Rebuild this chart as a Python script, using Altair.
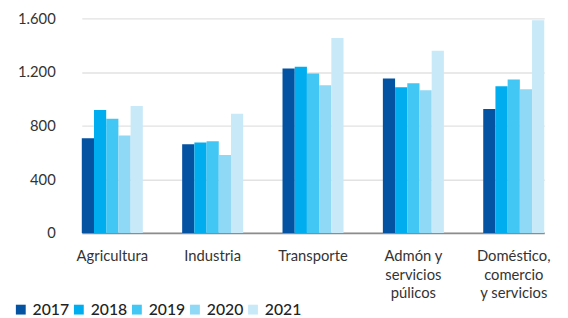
import altair as alt
import pandas as pd

categories = ["Agricultura", "Industria", "Transporte",
              "Admón y|servicios|púlicos", "Doméstico,|comercio|y servicios"]
years = ["2017", "2018", "2019", "2020", "2021"]
values = {
    "2017": [705, 661, 1226, 1152, 924],
    "2018": [917, 675, 1240, 1086, 1093],
    "2019": [851, 683, 1189, 1116, 1144],
    "2020": [727, 580, 1101, 1064, 1071],
    "2021": [947, 888, 1453, 1358, 1586],
}
colors = ["#0452A2", "#00AEEF", "#42C7F4", "#8FD8F6", "#C8E9F8"]

rows = []
for y in years:
    for c, v in zip(categories, values[y]):
        rows.append({"cat": c, "year": y, "value": v})
df = pd.DataFrame(rows)

FONT = "Lato"

chart = alt.Chart(df).mark_bar().encode(
    x=alt.X("cat:N", sort=categories, title=None,
            scale=alt.Scale(paddingInner=0.392, paddingOuter=0, range=[7, 477]),
            axis=alt.Axis(labelAngle=0, labelExpr="split(datum.label, '|')",
                          labelFontSize=15, labelColor="#333333", labelFont=FONT,
                          labelPadding=16, labelLineHeight=19, ticks=False,
                          domainColor="#8c8c8c", domainWidth=2)),
    xOffset=alt.XOffset("year:N", sort=years),
    y=alt.Y("value:Q", title=None,
            scale=alt.Scale(domain=[0, 1600]),
            axis=alt.Axis(values=[0, 400, 800, 1200, 1600],
                          labelExpr="replace(format(datum.value, ','), ',', '.')",
                          labelFontSize=15, labelColor="#333333", labelFont=FONT,
                          labelPadding=20, ticks=False, domain=False,
                          gridColor="#e2e2e2", gridWidth=1.5)),
    color=alt.Color("year:N", sort=years,
                    scale=alt.Scale(domain=years, range=colors),
                    legend=alt.Legend(title=None, orient="none", legendX=-63, legendY=288,
                                      direction="horizontal", symbolType="square",
                                      symbolSize=100, symbolStrokeWidth=0,
                                      labelFontSize=16, labelFont=FONT, labelFontWeight=500,
                                      labelColor="#222222", columnPadding=1, labelOffset=4)),
).properties(
    width=488, height=218,
    padding={"top": 1, "left": 5, "right": 5, "bottom": 0},
).configure_view(stroke=None)

chart.save("out.html", embed_options={"renderer": "svg", "actions": False})
